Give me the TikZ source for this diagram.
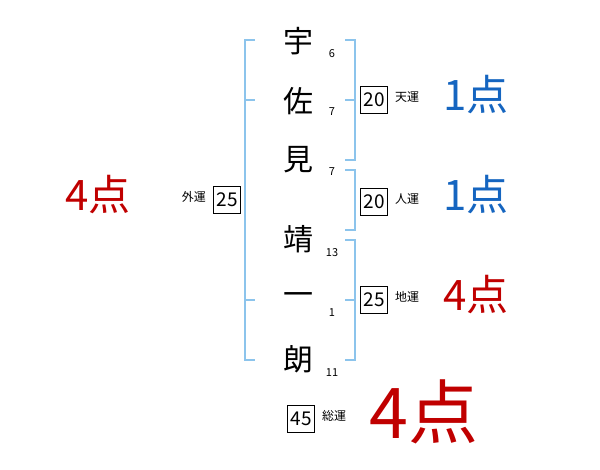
\documentclass[tikz,border=0pt]{standalone}
\usepackage{fontspec}
\usetikzlibrary{positioning}
\setmainfont{Noto Sans CJK JP}
\definecolor{bracketblue}{HTML}{8CC4EC}
\definecolor{pointred}{HTML}{C00000}
\definecolor{pointblue}{HTML}{1565C0}
\begin{document}
\begin{tikzpicture}[x=1pt,y=-1pt,
			moji/.style={font=\fontsize{30}{30}\selectfont},
			kaku/.style={font=\fontsize{11}{11}\selectfont},
			kakubox/.style={draw, line width=0.8pt, minimum size=27pt, inner sep=0pt, font=\fontsize{19}{19}\selectfont},
			unlabel/.style={font=\fontsize{12}{12}\selectfont, inner sep=0pt},
			bracket/.style={draw=bracketblue, line width=1.8pt},
			ten/.style={font=\fontsize{42}{42}\selectfont}]
			\useasboundingbox (0,0) rectangle (600,470);

			% name
			\node[moji] (c1) at (298,41) {宇};
			\node[moji] (c2) at (298,101) {佐};
			\node[moji] (c3) at (298,160) {見};
			\node[moji] (c4) at (298,239) {靖};
			\node[moji] (c5) at (298,299) {一};
			\node[moji] (c6) at (298,359) {朗};

			\begin{scope}[nodes = {kaku}]
				\node (k1) at (332,54) {6};
				\node (k2) at (332,112) {7};
				\node (k3) at (332,172) {7};
				\node (k4) at (332,253) {13};
				\node (k5) at (332,313) {1};
				\node (k6) at (332,373) {11};
			\end{scope}

			% brackets
			\draw[bracket] (255,40) -- (245,40) -- (245,360) -- (255,360);
			\draw[bracket] (245,100) -- (255,100);
			\draw[bracket] (245,300) -- (255,300);
			\draw[bracket] (345,40) -- (355,40) -- (355,160) -- (345,160);
			\draw[bracket] (345,100) -- (355,100);
			\draw[bracket] (345,170) -- (355,170) -- (355,230) -- (345,230);
			\draw[bracket] (345,240) -- (355,240) -- (355,360) -- (345,360);
			\draw[bracket] (345,300) -- (355,300);

			% kakusu
			\node[kakubox] (ten1) at (374,100) {20};
			\node[unlabel, right=7pt of ten1, yshift=3pt] (ten2) {天運};
			\node[kakubox] (jin1) at (374,202) {20};
			\node[unlabel, right=7pt of jin1, yshift=3pt] (jin2) {人運};
			\node[kakubox] (chi1) at (374,300) {25};
			\node[unlabel, right=7pt of chi1, yshift=3pt] (chi2) {地運};
			\node[kakubox] (gai1) at (227,200) {25};
			\node[unlabel, left=7pt of gai1, yshift=3pt] (gai2) {外運};
			\node[kakubox] (sou1) at (301,419) {45};
			\node[unlabel, right=7pt of sou1, yshift=3pt] (sou2) {総運};

			% points
			\node[ten, pointblue] (p1) at (476,95) {1点};
			\node[ten, pointblue] (p2) at (476,195) {1点};
			\node[ten, pointred] (p3) at (476,295) {4点};
			\node[ten, pointred] (p4) at (98,195) {4点};
			\node[ten, pointred, font=\fontsize{70}{70}\selectfont] (p5) at (424,412) {4点};

		\end{tikzpicture}
\end{document}
